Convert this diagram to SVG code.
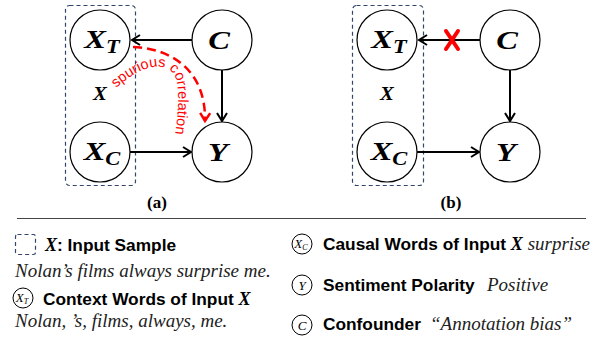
<svg xmlns="http://www.w3.org/2000/svg" width="607" height="341" viewBox="0 0 607 341">
<style>
.grp{fill:none;stroke:#34456b;stroke-width:1.2;stroke-dasharray:4,3}
.node{fill:#fff;stroke:#000;stroke-width:1.2}
.nl{font-family:"Liberation Serif",serif;font-weight:bold;font-style:italic;font-size:26px;fill:#000;text-anchor:middle}
.sub{font-size:18px}
.xl{font-family:"Liberation Serif",serif;font-weight:bold;font-style:italic;font-size:18px;text-anchor:middle}
.edge{fill:none;stroke:#000;stroke-width:2}
.sp{fill:none;stroke:#f00;stroke-width:2.5;stroke-dasharray:9,5}
.cap{font-family:"Liberation Serif",serif;font-weight:bold;font-size:17px;text-anchor:middle}
.lb{font-family:"Liberation Sans",Arial,sans-serif;font-weight:bold;font-size:17.3px;fill:#000}
.bx{font-family:"Liberation Serif",serif;font-weight:bold;font-style:italic;font-size:18px}
.it{font-family:"Liberation Serif",serif;font-style:italic;font-size:19px;fill:#222;font-weight:normal}
.ic{fill:#fff;stroke:#000;stroke-width:1}
.icl{font-family:"Liberation Serif",serif;font-style:italic;font-size:13px;text-anchor:middle}
.red{font-family:"Liberation Sans",Arial,sans-serif;font-size:14.5px;fill:#f00}
</style>
<defs>
<marker id="ah" markerWidth="14" markerHeight="14" refX="11" refY="7" orient="auto" markerUnits="userSpaceOnUse">
<path d="M3,2 L11,7 L3,12" fill="none" stroke="#000" stroke-width="2"/>
</marker>
<marker id="ahr" markerWidth="14" markerHeight="14" refX="11" refY="7" orient="auto" markerUnits="userSpaceOnUse">
<path d="M3,2 L11,7 L3,12" fill="none" stroke="#f00" stroke-width="2.5"/>
</marker>
<path id="sptext" d="M116,88 C138,68 162,60 173,73 C182,84 178,122 171,158"/>
</defs>

<!-- panel (a) -->
<rect id="groupA" class="grp" x="65.5" y="5.5" width="70" height="180" rx="4"/>
<text id="labelXa" class="xl" transform="translate(100,100) scale(1.15,1)">X</text>
<g id="connectorsA">
<path class="edge" d="M192,40 H132" marker-end="url(#ah)"/>
<path class="edge" d="M222,70 V121" marker-end="url(#ah)"/>
<path class="edge" d="M130,152 H191" marker-end="url(#ah)"/>
<path class="sp" d="M133,47 C177,49 206,75 205,121" marker-end="url(#ahr)"/>
<text class="red"><textPath href="#sptext">spurious correlation</textPath></text>
</g>
<g id="XTa"><circle class="node" cx="100" cy="40" r="30"/><text class="nl" transform="translate(102,48) scale(1.25,1)">X<tspan class="sub" dy="5">T</tspan></text></g>
<g id="XCa"><circle class="node" cx="100" cy="152" r="30"/><text class="nl" transform="translate(102,160) scale(1.25,1)">X<tspan class="sub" dy="5">C</tspan></text></g>
<g id="Ca"><circle class="node" cx="222" cy="40" r="30"/><text class="nl" transform="translate(219,49) scale(1.25,1)">C</text></g>
<g id="Ya"><circle class="node" cx="222" cy="152" r="30"/><text class="nl" transform="translate(218,161) scale(1.25,1)">Y</text></g>
<text class="cap" x="157" y="208">(a)</text>

<!-- panel (b) -->
<rect id="groupB" class="grp" x="352.5" y="5.5" width="71" height="180" rx="4"/>
<text id="labelXb" class="xl" transform="translate(387,100) scale(1.15,1)">X</text>
<g id="connectorsB">
<path class="edge" d="M480,40 H419" marker-end="url(#ah)"/>
<path class="edge" d="M510,70 V121" marker-end="url(#ah)"/>
<path class="edge" d="M417,152 H479" marker-end="url(#ah)"/>
<path d="M446,31 L458,49 M458,31 L446,49" stroke="#f00" stroke-width="4" stroke-linecap="round" fill="none"/>
</g>
<g id="XTb"><circle class="node" cx="387" cy="40" r="30"/><text class="nl" transform="translate(389,48) scale(1.25,1)">X<tspan class="sub" dy="5">T</tspan></text></g>
<g id="XCb"><circle class="node" cx="387" cy="152" r="30"/><text class="nl" transform="translate(389,160) scale(1.25,1)">X<tspan class="sub" dy="5">C</tspan></text></g>
<g id="Cb"><circle class="node" cx="510" cy="40" r="30"/><text class="nl" transform="translate(507,49) scale(1.25,1)">C</text></g>
<g id="Yb"><circle class="node" cx="510" cy="152" r="30"/><text class="nl" transform="translate(506,161) scale(1.25,1)">Y</text></g>
<text class="cap" x="451" y="208">(b)</text>

<line x1="17" y1="218.5" x2="586" y2="218.5" stroke="#444" stroke-width="1.2"/>

<!-- legend -->
<g id="legendX">
<rect class="grp" x="15.5" y="234.5" width="20" height="20" rx="2"/>
<text class="lb" x="45" y="251"><tspan class="bx">X</tspan>: Input Sample</text>
<text class="it" x="15" y="277">Nolan’s films always surprise me.</text>
</g>
<g id="legendXT">
<circle class="ic" cx="23" cy="298" r="10"/>
<text class="icl" x="22" y="302">X<tspan font-size="8" dy="2">T</tspan></text>
<text class="lb" x="43" y="305">Context Words of Input <tspan class="bx">X</tspan></text>
<text class="it" x="15" y="327">Nolan, ’s, films, always, me.</text>
</g>
<g id="legendXC">
<circle class="ic" cx="302" cy="244" r="10"/>
<text class="icl" x="301" y="248">X<tspan font-size="8" dy="2">C</tspan></text>
<text class="lb" x="323" y="250">Causal Words of Input <tspan class="bx">X</tspan> <tspan class="it">surprise</tspan></text>
</g>
<g id="legendY">
<circle class="ic" cx="302" cy="285" r="10"/>
<text class="icl" x="302" y="289.5">Y</text>
<text class="lb" x="323" y="291">Sentiment Polarity <tspan class="it" x="487">Positive</tspan></text>
</g>
<g id="legendC">
<circle class="ic" cx="302" cy="325" r="10"/>
<text class="icl" x="302" y="329.5">C</text>
<text class="lb" x="323" y="330">Confounder <tspan class="it" x="430">“Annotation bias”</tspan></text>
</g>
</svg>
